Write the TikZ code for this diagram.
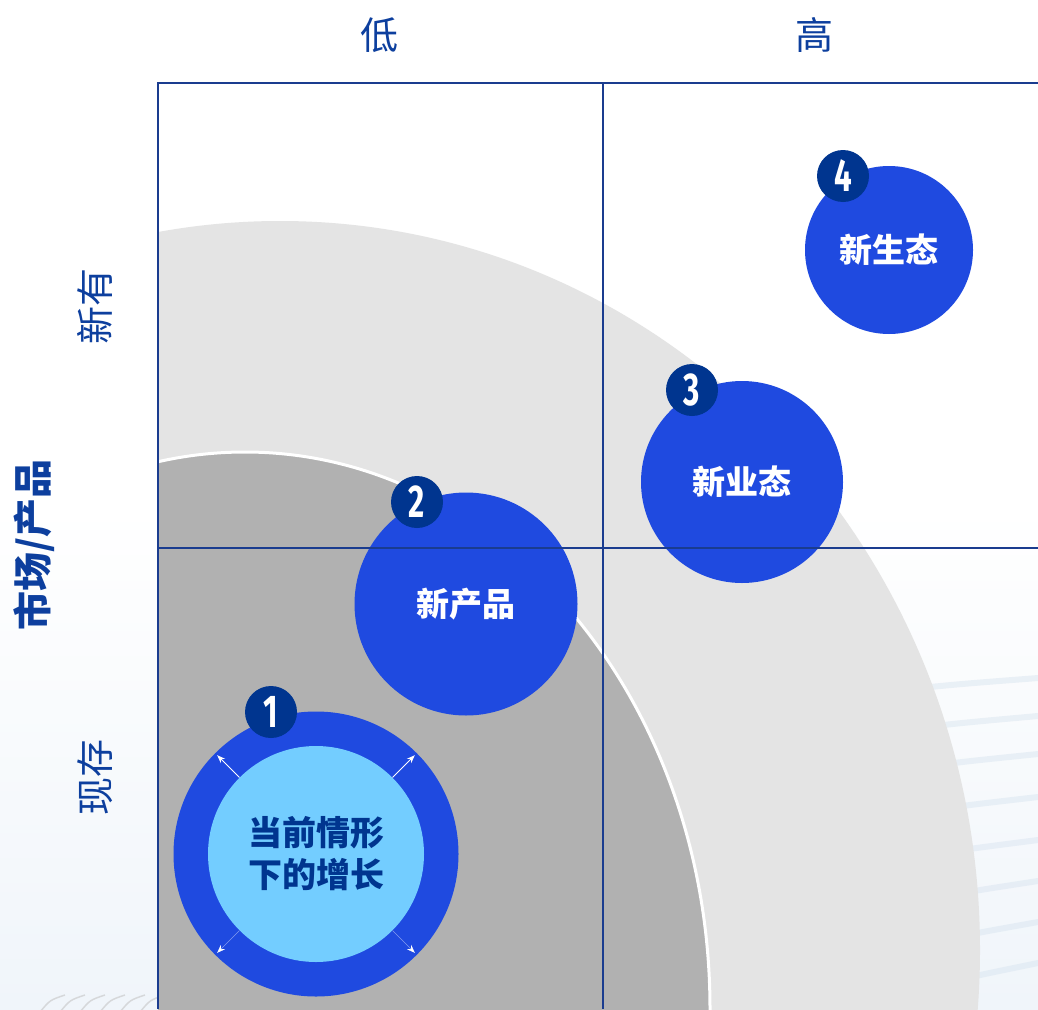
\documentclass[tikz,border=0pt]{standalone}
\usepackage{fontspec}
\newfontfamily\cjk{Noto Sans CJK SC}
\newfontfamily\numf{Fira Sans}
\usetikzlibrary{arrows.meta}
\definecolor{gridblue}{HTML}{1A3C8F}
\definecolor{ballblue}{HTML}{1F4AE0}
\definecolor{navy}{HTML}{00358F}
\definecolor{skyblue}{HTML}{73CDFF}
\definecolor{lgray}{HTML}{E4E4E4}
\definecolor{dgray}{HTML}{B1B1B1}
\definecolor{labelblue}{HTML}{0D3F9E}
\definecolor{bgb}{HTML}{F0F5FA}
\definecolor{stripeb}{HTML}{D6E3EF}
\begin{document}
\begin{tikzpicture}[x=1pt,y=-1pt,
  gridline/.style={draw=gridblue,line width=2pt},
  ball/.style={circle,fill=ballblue,inner sep=0pt,text=white,font=\cjk\bfseries\fontsize{33}{38}\selectfont},
  badge/.style={circle,fill=navy,inner sep=0pt,minimum size=52pt,text=white,
    font=\numf\bfseries\fontsize{46}{46}\selectfont},
  axislabel/.style={text=labelblue,inner sep=0pt,font=\cjk\fontsize{38}{40}\selectfont},
  axistitle/.style={text=labelblue,inner sep=0pt,font=\cjk\bfseries\fontsize{39}{42}\selectfont},
  growarrow/.style={draw=white,line width=1pt,-{Stealth[length=8pt,width=6pt]},shorten >=3pt},
  growarrowfaint/.style={draw=white!45!ballblue,line width=0.5pt,-{Stealth[length=8pt,width=6pt,color=white]},shorten >=3pt},
  stripe/.style={draw=stripeb,line width=6pt,line cap=round,opacity=0.45}
]
\useasboundingbox (0,0) rectangle (1038,1009);
% background
\shade[top color=white,bottom color=bgb,middle color=white] (0,0) rectangle (1038,1009);
% faint stripes (decor)
\foreach \y/\d in {690/6,730/7,770/8,815/9,860/10,905/12,950/14,995/16}{
  \draw[stripe] (900,\y) .. controls (960,\y-\d) .. (1038,\y-2*\d);
}
\foreach \x in {40,60,80,100,120,140}{
  \draw[draw=gray!45,line width=1.5pt,opacity=0.6] (\x,1012) .. controls (\x+10,1000) .. (\x+25,995);
}
% gray regions
\begin{scope}
  \clip (158,83) rectangle (1038,1009);
  \fill[lgray] (280,950) ellipse [x radius=700pt,y radius=729pt];
  \filldraw[fill=dgray,draw=white,line width=3pt] (245,1009) ellipse [x radius=465pt,y radius=557pt];
\end{scope}
% circles
\node[ball,minimum size=285pt] (c1out) at (316,854) {};
\node[circle,fill=skyblue,inner sep=0pt,minimum size=216pt,text=navy,align=center,
  font=\cjk\bfseries\fontsize{34}{42}\selectfont] (c1in) at (316,854) {当前情形\\下的增长};
\draw[growarrow] (c1in.north west) -- (c1out.north west);
\draw[growarrow] (c1in.north east) -- (c1out.north east);
\draw[growarrowfaint] (c1in.south west) -- (c1out.south west);
\draw[growarrowfaint] (c1in.south east) -- (c1out.south east);
\node[ball,minimum size=223pt] (c2) at (466,604) {新产品};
\node[ball,minimum size=202pt] (c3) at (742,482) {新业态};
\node[ball,minimum size=168pt] (c4) at (889,250) {新生态};
% grid lines
\draw[gridline] (158,1009) -- (158,83) -- (1038,83);
\draw[gridline] (603,83) -- (603,1009);
\draw[gridline] (158,548) -- (1038,548);
% badges
\node[badge] (b1) at (271,712) {\scalebox{0.68}[1]{1}};
\node[badge] (b2) at (417,502) {\scalebox{0.68}[1]{2}};
\node[badge] (b3) at (692,390) {\scalebox{0.68}[1]{3}};
\node[badge] (b4) at (843,176) {\scalebox{0.68}[1]{4}};
% axis labels
\node[axislabel] (low) at (379,35) {低};
\node[axislabel] (high) at (814,35) {高};
\node[axislabel,rotate=90] (newx) at (95,306) {新有};
\node[axislabel,rotate=90] (exist) at (95,777) {现存};
\node[axistitle,rotate=90] (mp) at (34,545) {市场/产品};
\end{tikzpicture}
\end{document}
